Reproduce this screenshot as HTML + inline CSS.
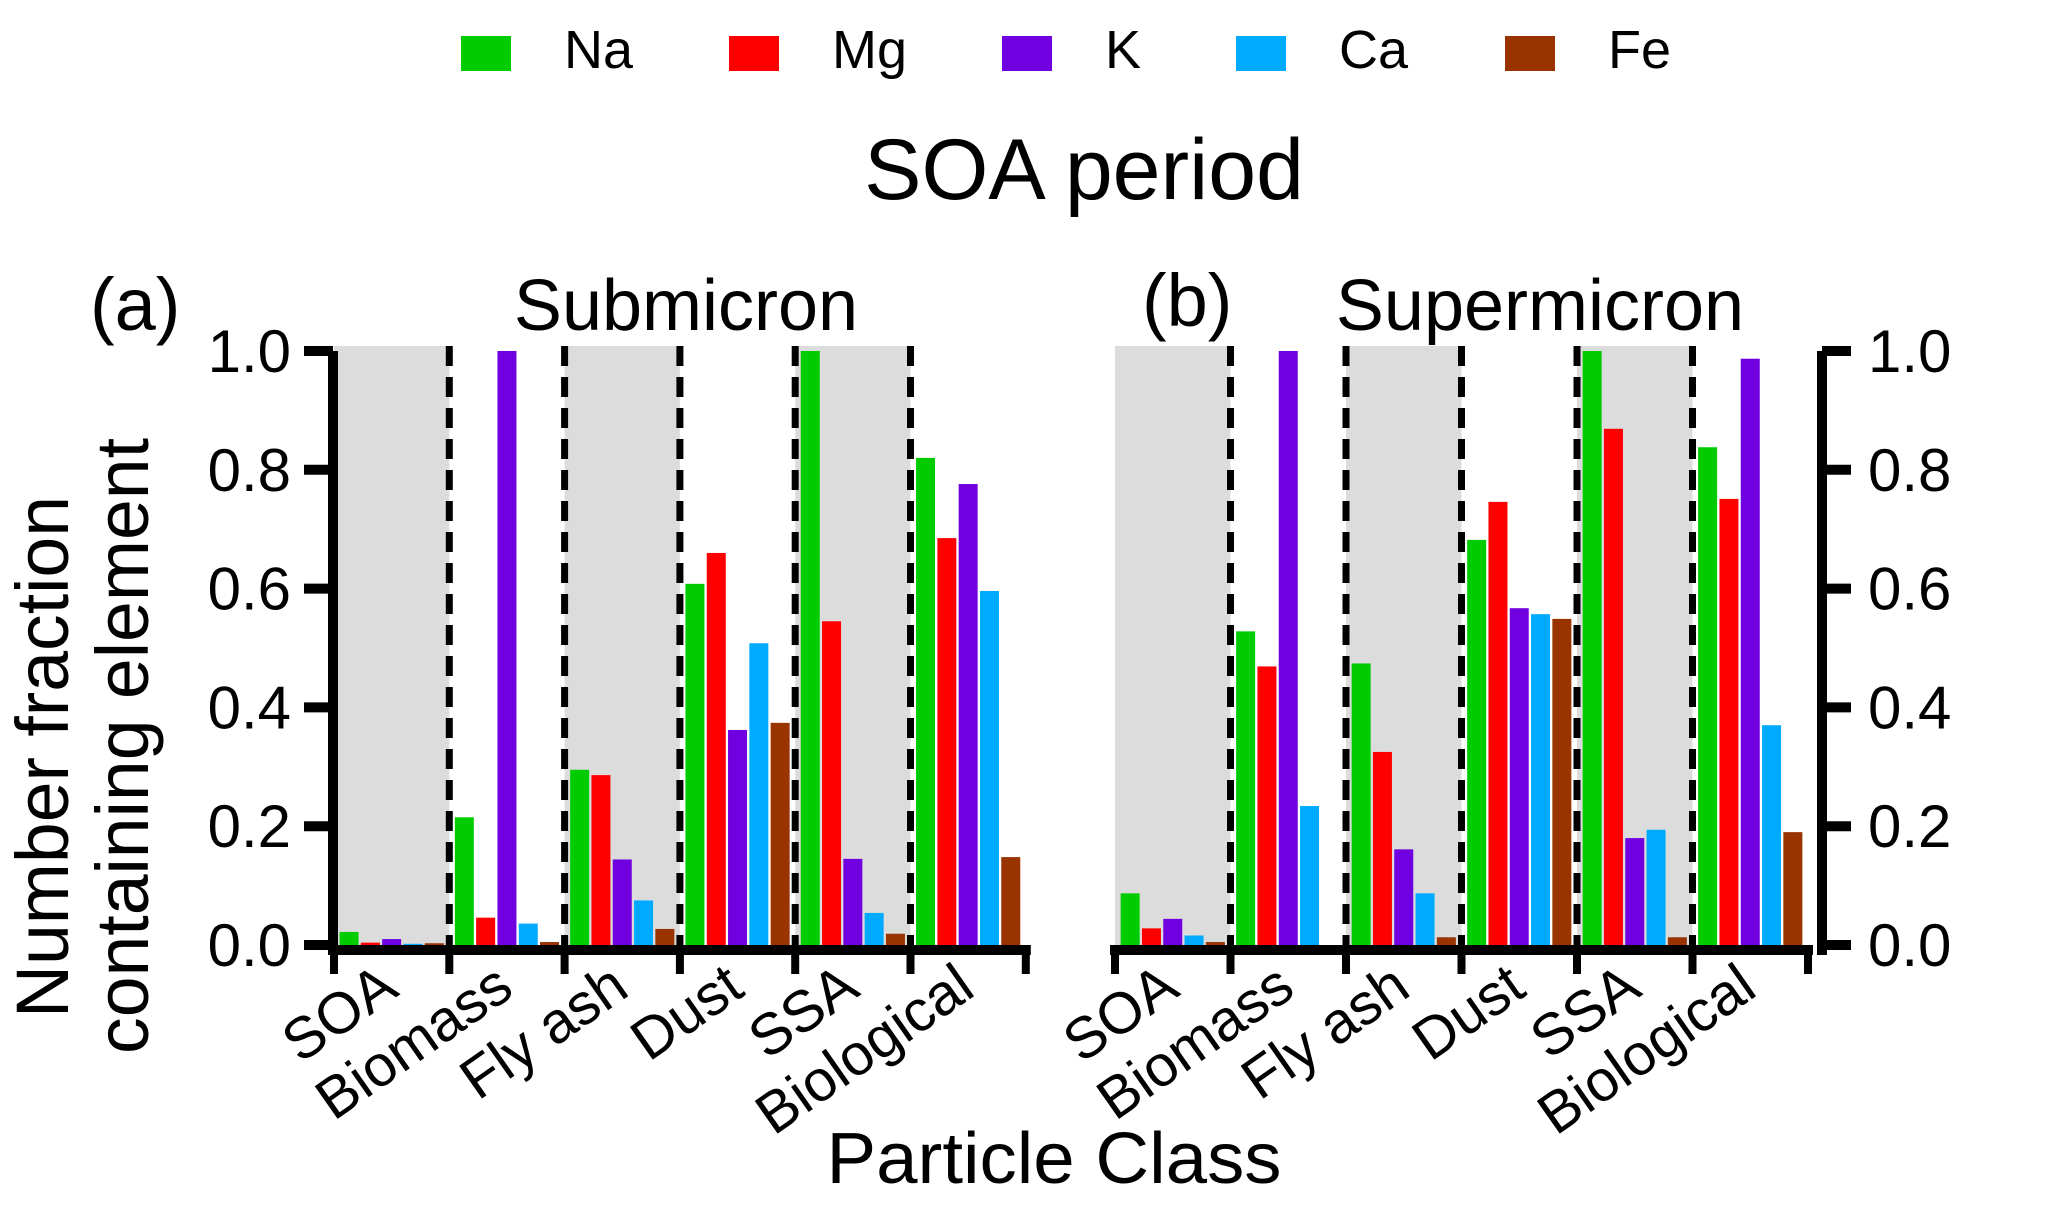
<!DOCTYPE html>
<html><head><meta charset="utf-8">
<style>
html,body{margin:0;padding:0;background:#fff;}
svg{display:block;font-family:"Liberation Sans",Arial,sans-serif;}
</style></head>
<body>
<svg id="chart" width="2067" height="1207" viewBox="0 0 2067 1207" xmlns="http://www.w3.org/2000/svg">
  <g id="legend"></g>
  <text x="1084" y="199" font-size="86" text-anchor="middle">SOA period</text>
  <text x="90" y="330" font-size="74">(a)</text>
  <text x="686" y="330" font-size="72" text-anchor="middle">Submicron</text>
  <text x="1142" y="326" font-size="74">(b)</text>
  <text x="1540" y="330" font-size="72" text-anchor="middle">Supermicron</text>
  <text transform="translate(68,757) rotate(-90)" font-size="74" text-anchor="middle" textLength="522" lengthAdjust="spacingAndGlyphs">Number fraction</text>
  <text transform="translate(148,746) rotate(-90)" font-size="74" text-anchor="middle" textLength="616" lengthAdjust="spacingAndGlyphs">containing element</text>
  <text x="1054" y="1183" font-size="72" text-anchor="middle" textLength="455" lengthAdjust="spacingAndGlyphs">Particle Class</text>
  <g id="panelA"></g>
  <g id="panelB"></g>
</svg>
<script>
const categories = ["SOA","Biomass","Fly ash","Dust","SSA","Biological"];
const elements = ["Na","Mg","K","Ca","Fe"];
const colors = ["#00cc00","#ff0000","#7000e0","#00aaff","#993300"];
const yTicks = [0, 0.2, 0.4, 0.6, 0.8, 1.0];
const yTickLabels = ["0.0","0.2","0.4","0.6","0.8","1.0"];
const shadedCats = [0, 2, 4];
// Submicron values
const subNa = [0.022, 0.215, 0.295, 0.608, 1.0, 0.82];
const subMg = [0.004, 0.046, 0.286, 0.66, 0.545, 0.685];
const subK  = [0.010, 1.0, 0.144, 0.362, 0.145, 0.776];
const subCa = [0.002, 0.036, 0.075, 0.508, 0.054, 0.596];
const subFe = [0.003, 0.005, 0.027, 0.374, 0.019, 0.148];
// Supermicron values
const supNa = [0.087, 0.528, 0.474, 0.682, 1.0, 0.838];
const supMg = [0.028, 0.469, 0.325, 0.746, 0.869, 0.751];
const supK  = [0.044, 1.0, 0.161, 0.567, 0.18, 0.987];
const supCa = [0.016, 0.234, 0.087, 0.557, 0.194, 0.37];
const supFe = [0.005, 0.0, 0.013, 0.549, 0.013, 0.19];

const NS = "http://www.w3.org/2000/svg";
function mk(tag, attrs, parent){
  const e = document.createElementNS(NS, tag);
  for (const k in attrs) e.setAttribute(k, attrs[k]);
  parent.appendChild(e);
  return e;
}
const Y0 = 945, YH = 594;
function yScale(v){ return Y0 - v*YH; }

const legend = document.getElementById('legend');
const legX = [461, 729, 1002, 1236, 1505];
elements.forEach((el, i) => {
  const r = mk('rect', {x: legX[i], y: 36, width: 50, height: 35, fill: colors[i]}, legend);
  
  
  const t = mk('text', {x: legX[i] + 103, y: 68, 'font-size': 54}, legend);
  t.textContent = el;
  
  
});

function drawPanel(g, x0, catW, series, side){
  function xScale(ci){ return x0 + ci*catW; }
  const x1 = xScale(categories.length);
  shadedCats.forEach(ci => {
    const r = mk('rect', {x: xScale(ci), y: 346, width: catW, height: Y0 - 346, fill: '#dcdcdc'}, g);
    
    
  });
  const pitch = 21.3, bw = 19;
  categories.forEach((c, ci) => {
    const cx = xScale(ci) + catW/2;
    series.forEach((s, si) => {
      const v = s[ci];
      const bx = cx + (si - 2)*pitch - bw/2;
      const r = mk('rect', {x: bx, y: yScale(v), width: bw, height: Y0 - yScale(v), fill: colors[si]}, g);
      
      
    });
  });
  for (let ci = 1; ci < categories.length; ci++){
    const l = mk('line', {x1: xScale(ci), x2: xScale(ci), y1: 346, y2: Y0, stroke: '#000', 'stroke-width': 7, 'stroke-dasharray': '20 11'}, g);
    
    
  }
  const xa = mk('line', {x1: x0 - 5, x2: x1 + 5, y1: 950, y2: 950, stroke: '#000', 'stroke-width': 10}, g);
  
  
  for (let ci = 0; ci <= categories.length; ci++){
    const t = mk('line', {x1: xScale(ci), x2: xScale(ci), y1: 945, y2: 974, stroke: '#000', 'stroke-width': 8}, g);
    
    
  }
  categories.forEach((c, ci) => {
    const cx = xScale(ci) + catW/2 + 9;
    const t = mk('text', {transform: 'translate(' + cx + ',994) rotate(-35)', 'font-size': 58, 'text-anchor': 'end'}, g);
    t.textContent = c;
    
    
  });
  const ax = side === 'left' ? x0 - 1 : x1 + 14;
  const ya = mk('line', {x1: ax, x2: ax, y1: 351, y2: 955, stroke: '#000', 'stroke-width': 10}, g);
  
  
  yTicks.forEach((v, i) => {
    const y = yScale(v);
    const tx1 = side === 'left' ? ax - 29 : ax;
    const tx2 = side === 'left' ? ax : ax + 29;
    const tk = mk('line', {x1: tx1, x2: tx2, y1: y, y2: y, stroke: '#000', 'stroke-width': 10}, g);
    
    
    const lx = side === 'left' ? 291 : ax + 46;
    const t = mk('text', {x: lx, y: y + 21, 'font-size': 60, 'text-anchor': side === 'left' ? 'end' : 'start'}, g);
    t.textContent = yTickLabels[i];
    
    
  });
}
drawPanel(document.getElementById('panelA'), 334, 115.3, [subNa, subMg, subK, subCa, subFe], 'left');
drawPanel(document.getElementById('panelB'), 1115, 115.5, [supNa, supMg, supK, supCa, supFe], 'right');
</script>
</body></html>
